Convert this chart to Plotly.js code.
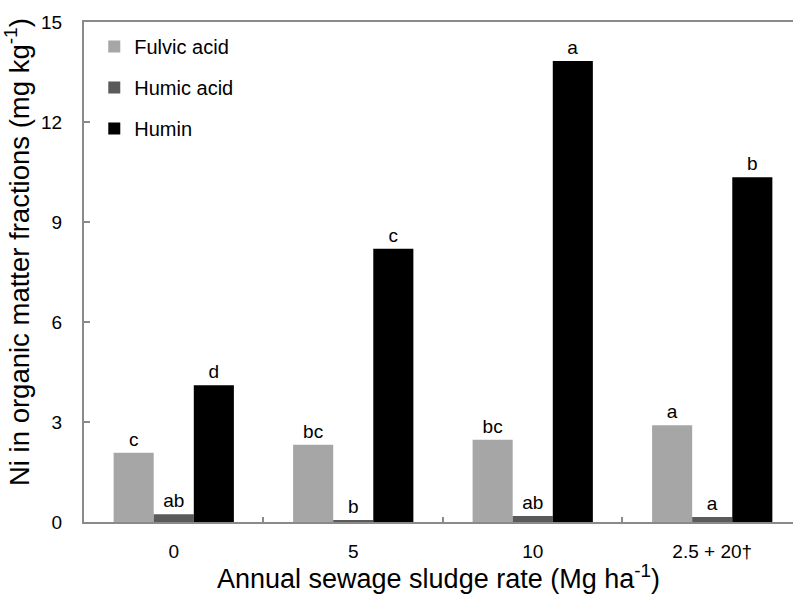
<!DOCTYPE html>
<html>
<head>
<meta charset="utf-8">
<script src="https://cdn.plot.ly/plotly-3.0.1.min.js"></script>
<style>html,body{margin:0;padding:0;background:#fff;}#chart{width:793px;height:594px;}</style>
</head>
<body>
<div id="chart"></div>
<script>
const categories = ["0", "5", "10", "2.5 + 20†"];
const fulvicAcid = [2.08, 2.32, 2.47, 2.90];
const humicAcid = [0.23, 0.06, 0.18, 0.15];
const humin = [4.10, 8.20, 13.83, 10.34];
const fulvicLetters = ["c", "bc", "bc", "a"];
const humicLetters = ["ab", "b", "ab", "a"];
const huminLetters = ["d", "c", "a", "b"];
const yTicks = [0, 3, 6, 9, 12, 15];
const xTitle = "Annual sewage sludge rate (Mg ha<sup>-1</sup>)";
const yTitle = "Ni in organic matter fractions (mg kg<sup>-1</sup>)";

const FONT = "Liberation Sans, Arial, sans-serif";

function barTrace(name, values, letters, color, group) {
  return {
    type: "bar",
    name: name,
    x: categories,
    y: values,
    text: letters,
    textposition: "outside",
    texttemplate: "%{text}",
    textfont: {family: FONT, size: 19, color: "#000"},
    cliponaxis: false,
    marker: {color: color, line: {width: 0}},
    legendgroup: group,
    hoverinfo: "y"
  };
}

const data = [
  barTrace("Fulvic acid", fulvicAcid, fulvicLetters, "#a6a6a6", "g1"),
  barTrace("Humic acid", humicAcid, humicLetters, "#5a5a5a", "g2"),
  barTrace("Humin", humin, huminLetters, "#000000", "g3")
];

const layout = {
  width: 793,
  height: 594,
  margin: {l: 84, r: 0, t: 22, b: 72, pad: 0},
  paper_bgcolor: "#fff",
  plot_bgcolor: "#fff",
  font: {family: FONT, size: 18, color: "#000"},
  barmode: "group",
  bargap: 0.33,
  bargroupgap: 0,
  showlegend: true,
  legend: {
    x: 0.0145, y: 0.99, xanchor: "left", yanchor: "top",
    font: {family: FONT, size: 20, color: "#000"},
    bgcolor: "rgba(0,0,0,0)",
    tracegroupgap: 12,
    itemwidth: 30
  },
  xaxis: {
    type: "category",
    range: [-0.5, 3.45],
    showline: true, linecolor: "#8a8a8a", linewidth: 2,
    mirror: true,
    ticks: "inside", tickson: "boundaries", ticklen: 5, tickcolor: "#8a8a8a", tickwidth: 2,
    showgrid: false, zeroline: false,
    tickfont: {family: FONT, size: 19, color: "#000"},
    ticklabelstandoff: 11,
    title: {text: xTitle, font: {family: FONT, size: 27, color: "#000"}, standoff: 10}
  },
  yaxis: {
    range: [0, 15],
    tickvals: yTicks,
    ticktext: yTicks.map(String),
    showline: true, linecolor: "#8a8a8a", linewidth: 2,
    ticks: "inside", ticklen: 6, tickcolor: "#8a8a8a", tickwidth: 2,
    showgrid: false, zeroline: false,
    tickfont: {family: FONT, size: 19, color: "#000"},
    ticklabelstandoff: 16
  },
  annotations: [{
    text: yTitle,
    xref: "paper", yref: "paper",
    x: -0.0931, y: 0.54,
    xanchor: "center", yanchor: "middle",
    textangle: -90,
    showarrow: false,
    font: {family: FONT, size: 27.5, color: "#000"}
  }]
};

Plotly.newPlot("chart", data, layout, {displayModeBar: false, staticPlot: true});
</script>
</body>
</html>
